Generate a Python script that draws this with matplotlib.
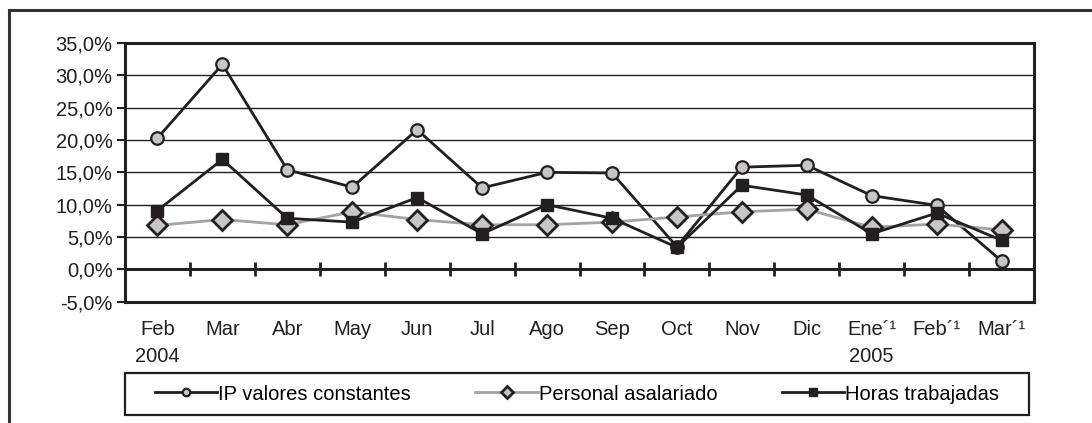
import numpy as np
import matplotlib.pyplot as plt
from matplotlib.lines import Line2D
from matplotlib.patches import Rectangle

plt.rcParams['font.family'] = ['Liberation Sans', 'DejaVu Sans']

# ## Data

meses = ['Feb\n2004', 'Mar', 'Abr', 'May', 'Jun', 'Jul', 'Ago', 'Sep', 'Oct', 'Nov', 'Dic',
         'Ene\u00b4\u00b9\n2005', 'Feb\u00b4\u00b9', 'Mar\u00b4\u00b9']
ip_valores = [20.3, 31.7, 15.4, 12.7, 21.6, 12.6, 15.0, 14.9, 3.5, 15.8, 16.1, 11.4, 9.9, 1.3]
personal = [6.8, 7.7, 6.9, 8.9, 7.7, 6.9, 6.9, 7.3, 8.1, 8.9, 9.3, 6.5, 7.0, 6.1]
horas = [9.1, 17.0, 7.9, 7.3, 11.1, 5.5, 10.0, 7.9, 3.4, 13.0, 11.5, 5.5, 8.7, 4.5]

dark = '#231f20'
fill = '#c6c6c8'
W, H = 1092, 423

fig = plt.figure(figsize=(W / 100, H / 100), dpi=100)
ax = fig.add_axes([125 / W, 1 - 301.7 / H, 909 / W, 258.7 / H])

x = np.arange(len(meses))

ax.plot(x, ip_valores, color=dark, lw=2, marker='o', ms=9, mfc=fill, mec=dark, mew=1.6,
        label='IP valores constantes', zorder=3)
ax.plot(x, personal, color='#a3a3a3', lw=2, marker='D', ms=10, mfc=fill, mec=dark, mew=2,
        label='Personal asalariado', zorder=4)
ax.plot(x, horas, color=dark, lw=2, marker='s', ms=9, mfc=dark, mec=dark, mew=1,
        label='Horas trabajadas', zorder=5)

ax.set_xlim(-0.5, len(meses) - 0.5)
ax.set_ylim(-5, 35)
yt = np.arange(-5, 36, 5)
ax.set_yticks(yt)
ax.set_yticklabels([f'{v:.1f}%'.replace('.', ',') for v in yt])
for v in yt[2:-1]:
    ax.axhline(v, color=dark, lw=1, zorder=1)
ax.axhline(0, color=dark, lw=2.2, zorder=2)
ax.vlines(x[:-1] + 0.5, -1.1, 1.1, color=dark, lw=2, zorder=2)

ax.set_xticks(x)
ax.set_xticklabels(meses, fontsize=14.5, linespacing=1.55)
ax.tick_params(axis='x', length=0, pad=13, labelcolor=dark)
ax.tick_params(axis='y', length=6, width=1.5, color=dark, labelsize=14.5, pad=3, labelcolor=dark)
for s in ax.spines.values():
    s.set_linewidth(2.2)
    s.set_color(dark)

# legend box spans the plot width, entries centred inside it
fig.add_artist(Rectangle((125 / W, 1 - 415 / H), 904 / W, 42 / H, transform=fig.transFigure,
                         fill=False, edgecolor=dark, lw=1.6))
leg = fig.legend(loc='center', bbox_to_anchor=(577 / W, 1 - 394 / H), ncol=3, fontsize=14.5,
                 markerscale=0.6, handlelength=3.1, handletextpad=0.05, columnspacing=3.2,
                 frameon=False, borderpad=0)

# outer frame (top and left edges only visible)
fig.add_artist(Line2D([9 / W, 1], [1 - 10 / H, 1 - 10 / H], color='#333333', lw=2.2))
fig.add_artist(Line2D([9 / W, 9 / W], [0, 1 - 10 / H], color='#333333', lw=2.2))

fig.savefig('out.png', dpi=100)
